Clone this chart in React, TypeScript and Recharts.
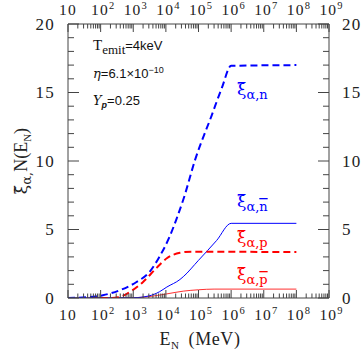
import React from 'react';
import { LineChart, Line, XAxis, YAxis } from 'recharts';

// energies (MeV) and values
const xiN_E = [10, 47, 117, 400, 1260, 3160, 6300, 12600, 21400, 35500, 79000, 251000, 513000, 1000000, 100000000];
const xiN_V = [0, 0.07, 0.2, 0.58, 1.17, 1.9, 3.0, 4.4, 5.8, 7.3, 10.1, 13.3, 15.3, 16.95, 17.0];

const xiNbar_E = [10, 1000, 3000, 6300, 10700, 27000, 34000, 100000, 360000, 1000000, 100000000];
const xiNbar_V = [0, 0.02, 0.15, 0.45, 0.8, 1.35, 1.55, 2.75, 4.2, 5.45, 5.45];

const xiP_E = [10, 200, 340, 800, 2000, 5200, 10700, 27000, 60000, 100000000];
const xiP_V = [0, 0, 0.05, 0.45, 1.17, 2.2, 2.9, 3.3, 3.38, 3.35];

const xiPbar_E = [10, 1000, 3000, 10700, 34000, 100000, 300000, 100000000];
const xiPbar_V = [0, 0.02, 0.1, 0.3, 0.5, 0.6, 0.65, 0.65];

// axes
const majorX = [10, 100, 1000, 10000, 100000, 1000000, 10000000, 100000000, 1000000000];
const majorXExp = ['', '2', '3', '4', '5', '6', '7', '8', '9'];
const minorMult = [2, 3, 4, 5, 6, 7, 8, 9];
const majorY = [0, 5, 10, 15, 20];
const yTicks = [0, 1, 2, 3, 4, 5, 6, 7, 8, 9, 10, 11, 12, 13, 14, 15, 16, 17, 18, 19, 20];

const toPts = (xs: number[], ys: number[]) => xs.map((x, i) => ({ x, y: ys[i] }));

const allXTicks = [
  ...majorX,
  ...majorX.slice(0, -1).flatMap((d) => minorMult.map((m) => d * m)),
].sort((a, b) => a - b);

const AX = '#444';
const SERIF = '"DejaVu Serif", "Liberation Serif", serif';
const TICKF = '"Liberation Serif", serif';
const SANS = '"Liberation Sans", "DejaVu Sans", sans-serif';

const XTick = (props: any) => {
  const { x, y, payload, side } = props;
  const i = majorX.indexOf(payload.value);
  const major = i >= 0;
  const dir = side === 'bottom' ? -1 : 1;
  const len = major ? 8 : 4.5;
  const ty = side === 'bottom' ? y + 22 : y - 9;
  return (
    <g>
      <line x1={x} x2={x} y1={y} y2={y + dir * len} stroke={AX} strokeWidth={1} />
      {major && (
        <text x={x + (majorXExp[i] ? 2 : 0)} y={ty} textAnchor="middle" fontFamily={TICKF} fontSize={15.5} letterSpacing={1.2} fill="#222">
          10
          {majorXExp[i] && (
            <tspan dy={-6} fontSize={10.5} letterSpacing={0}>
              {majorXExp[i]}
            </tspan>
          )}
        </text>
      )}
    </g>
  );
};

const YTick = (props: any) => {
  const { x, y, payload, side } = props;
  const major = majorY.includes(payload.value);
  const dir = side === 'left' ? 1 : -1;
  const len = major ? 11 : 6;
  return (
    <g>
      <line x1={x} x2={x + dir * len} y1={y} y2={y} stroke={AX} strokeWidth={1} />
      {major && (
        <text
          x={side === 'left' ? x - 13 : x + 13}
          y={y + 5.5}
          textAnchor={side === 'left' ? 'end' : 'start'}
          fontFamily={TICKF}
          fontSize={17}
          letterSpacing={1.2}
          fill="#222"
        >
          {payload.value}
        </text>
      )}
    </g>
  );
};

const CurveLabel = ({ x, y, sub, bar, color }: any) => (
  <text x={x} y={y} fill={color} fontFamily={SERIF} fontSize={17}>
    {'\u03BE\u0303'}
    <tspan fontSize={13} dy={4}>
      {'\u03B1,'}
    </tspan>
    <tspan fontSize={13} textDecoration={bar ? 'overline' : undefined}>
      {sub}
    </tspan>
  </text>
);

export default function App() {
  return (
    <div style={{ position: 'absolute', left: 0, top: 0, width: 362, height: 352, background: '#fff' }}>
      <LineChart width={362} height={352} margin={{ top: 0, right: 0, bottom: 0, left: 0 }}>
        <XAxis
          xAxisId="b"
          dataKey="x"
          type="number"
          scale="log"
          domain={[10, 1000000000]}
          allowDataOverflow
          ticks={allXTicks}
          interval={0}
          tickSize={0}
          tickMargin={0}
          height={54}
          stroke={AX}
          tick={<XTick side="bottom" />}
        />
        <XAxis
          xAxisId="t"
          orientation="top"
          dataKey="x"
          type="number"
          scale="log"
          domain={[10, 1000000000]}
          allowDataOverflow
          ticks={allXTicks}
          interval={0}
          tickSize={0}
          tickMargin={0}
          height={24}
          stroke={AX}
          tick={<XTick side="top" />}
        />
        <YAxis
          yAxisId="l"
          type="number"
          domain={[0, 20]}
          allowDataOverflow
          ticks={yTicks}
          interval={0}
          tickSize={0}
          tickMargin={0}
          width={68}
          stroke={AX}
          tick={<YTick side="left" />}
        />
        <YAxis
          yAxisId="r"
          orientation="right"
          type="number"
          domain={[0, 20]}
          allowDataOverflow
          ticks={yTicks}
          interval={0}
          tickSize={0}
          tickMargin={0}
          width={33}
          stroke={AX}
          tick={<YTick side="right" />}
        />
        <Line xAxisId="b" yAxisId="l" data={toPts(xiPbar_E, xiPbar_V)} dataKey="y" type="monotone" stroke="#ff3030" strokeWidth={1} dot={false} isAnimationActive={false} />
        <Line xAxisId="b" yAxisId="l" data={toPts(xiNbar_E, xiNbar_V)} dataKey="y" type="monotone" stroke="#0000ff" strokeWidth={1} dot={false} isAnimationActive={false} />
        <Line xAxisId="b" yAxisId="l" data={toPts(xiP_E, xiP_V)} dataKey="y" type="monotone" stroke="#ff0000" strokeWidth={2} strokeDasharray="7 4" dot={false} isAnimationActive={false} />
        <Line xAxisId="b" yAxisId="l" data={toPts(xiN_E, xiN_V)} dataKey="y" type="monotone" stroke="#0000ff" strokeWidth={2} strokeDasharray="7 4" dot={false} isAnimationActive={false} />

        <text x={93} y={50} fontFamily={TICKF} fontSize={15} fill="#111">
          T<tspan fontSize={13} dy={4}>emit</tspan>
          <tspan dy={-4} fontFamily={SANS} fontSize={13}>=4keV</tspan>
        </text>
        <text x={93} y={78} fontFamily={SANS} fontSize={13} fill="#111">
          <tspan fontFamily={SERIF} fontStyle="italic">{'\u03B7'}</tspan>=6.1×10
          <tspan dy={-5} fontSize={9}>−10</tspan>
        </text>
        <text x={93} y={105} fontFamily={SANS} fontSize={13} fill="#111">
          <tspan fontFamily={SERIF} fontStyle="italic">Y</tspan>
          <tspan fontSize={9} dy={3} fontStyle="italic" fontWeight="bold">p</tspan>
          <tspan dy={-3}>=0.25</tspan>
        </text>

        <CurveLabel x={237} y={95} sub="n" color="#0000ff" />
        <CurveLabel x={237} y={207} sub="n" bar color="#0000ff" />
        <CurveLabel x={237} y={243} sub="p" color="#ff0000" />
        <CurveLabel x={237} y={280} sub="p" bar color="#ff0000" />

        <text x={200} y={345} textAnchor="middle" fontFamily={TICKF} fontSize={18} letterSpacing={0.6} fill="#222">
          E<tspan fontSize={11} dy={4}>N</tspan>
          <tspan dy={-4} dx={9}>(MeV)</tspan>
        </text>
        <text transform="translate(27,161) rotate(-90)" textAnchor="middle" fontFamily={TICKF} fontSize={18} fill="#222">
          <tspan fontFamily={SERIF} fontSize={17}>{'\u03BE\u0303'}</tspan>
          <tspan fontFamily={SERIF} fontSize={13} dy={4}>{'\u03B1,'}</tspan>
          <tspan dy={-4}>N(E</tspan>
          <tspan fontSize={11} dy={4}>N</tspan>
          <tspan dy={-4}>)</tspan>
        </text>
      </LineChart>
    </div>
  );
}
